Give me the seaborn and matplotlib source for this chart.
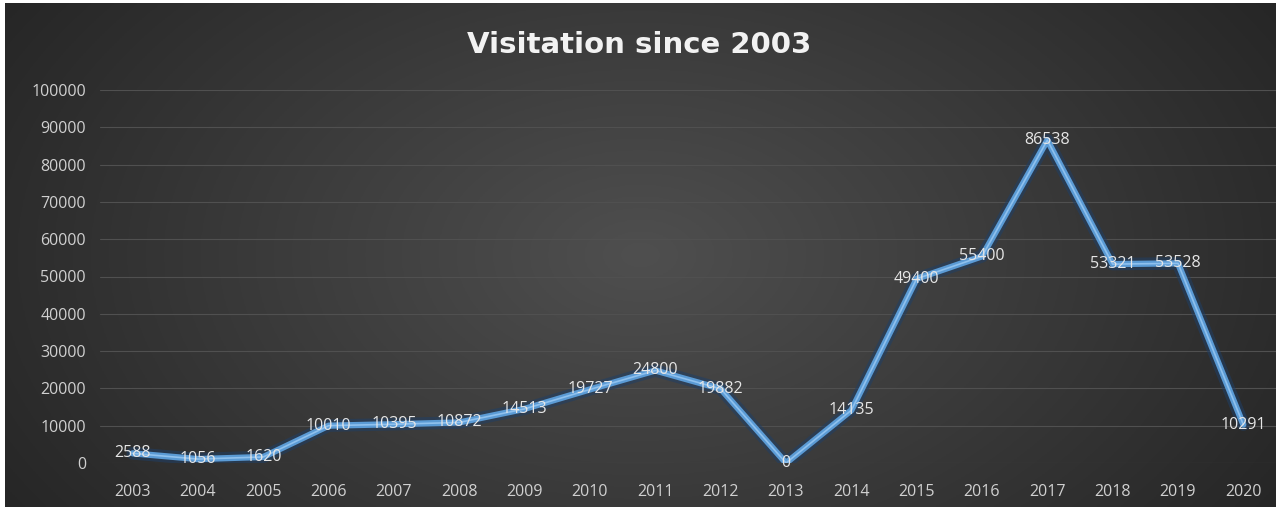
import numpy as np
import pandas as pd
import matplotlib
matplotlib.use("Agg")
import matplotlib.pyplot as plt
import seaborn as sns

years = ["2003", "2004", "2005", "2006", "2007", "2008", "2009", "2010", "2011",
         "2012", "2013", "2014", "2015", "2016", "2017", "2018", "2019", "2020"]
visits = [2588, 1056, 1620, 10010, 10395, 10872, 14513, 19727, 24800,
          19882, 0, 14135, 49400, 55400, 86538, 53321, 53528, 10291]
y_ticks = [0, 10000, 20000, 30000, 40000, 50000, 60000, 70000, 80000, 90000, 100000]
title = "Visitation since 2003"

sns.set_theme(style="dark")
plt.rcParams['font.family'] = ['Open Sans', 'DejaVu Sans']

W, H = 1278, 513
fig = plt.figure(figsize=(W / 100, H / 100), dpi=100, facecolor="white")

# background gradient panel
bg = fig.add_axes([5 / W, 6 / H, (W - 7) / W, (H - 9) / H])
bg.set_axis_off()
yy, xx = np.mgrid[-1:1:200j, -1:1:500j]
r = np.sqrt((xx / 1.0) ** 2 + (yy / 1.6) ** 2)
g = np.clip(1 - r / 1.25, 0, 1)
dark = np.array([0.14, 0.14, 0.14])
light = np.array([0.31, 0.31, 0.31])
img = dark[None, None, :] + (light - dark)[None, None, :] * g[..., None]
bg.imshow(img, aspect="auto", extent=[0, 1, 0, 1])
bg.set_xlim(0, 1)
bg.set_ylim(0, 1)

df = pd.DataFrame({"year": years, "visits": visits})
df["pos"] = np.arange(len(years))

ax = fig.add_axes([100 / W, 50 / H, 1176 / W, 373 / H])
ax.set_facecolor("none")
ax.patch.set_alpha(0)

# glow
sns.lineplot(data=df, x="pos", y="visits", ax=ax, color="#1f3f66", linewidth=9,
             alpha=0.55, legend=False, sort=False)
sns.lineplot(data=df, x="pos", y="visits", ax=ax, color="#5b9bd5", linewidth=4.5,
             legend=False, sort=False)
sns.lineplot(data=df, x="pos", y="visits", ax=ax, color="#8fc1ee", linewidth=1.2,
             legend=False, sort=False)

for i, v in enumerate(visits):
    ax.text(i, v, f"{v}", ha="center", va="center", color="#e6e6e6",
            fontsize=11.5, zorder=5)

ax.set_xlim(-0.5, len(years) - 0.5)
ax.set_ylim(0, 100000)
ax.set_xticks(range(len(years)))
ax.set_xticklabels(years)
ax.set_yticks(y_ticks)
ax.set_yticklabels([str(t) for t in y_ticks])
ax.tick_params(axis="both", colors="#d0d0d0", labelsize=11.5, length=0)
ax.tick_params(axis="x", pad=15)
ax.tick_params(axis="y", pad=10)
ax.grid(axis="y", color="#505050", linewidth=0.8)
ax.grid(axis="x", visible=False)
ax.set_axisbelow(True)
for s in ax.spines.values():
    s.set_visible(False)
ax.set_xlabel("")
ax.set_ylabel("")

fig.text(0.5, 1 - 45 / H, title, ha="center", va="center", color="#f2f2f2",
         fontsize=21, fontweight="bold", family=["DejaVu Sans"])

fig.savefig("out.png", dpi=100, facecolor="white")
